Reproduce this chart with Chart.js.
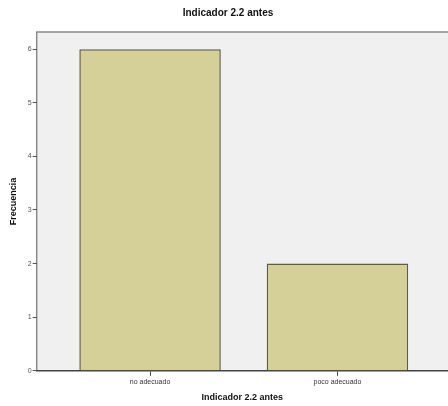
<!DOCTYPE html>
<html>
<head>
<meta charset="utf-8">
<script src="https://cdn.jsdelivr.net/npm/chart.js@4"></script>
<style>
  html, body { margin: 0; padding: 0; background: #fff; }
  #wrap { width: 448px; height: 406px; }
</style>
</head>
<body>
<div id="wrap"><canvas id="c" width="448" height="406"></canvas></div>
<script>
// chart values
const categories = ['no adecuado', 'poco adecuado'];
const counts = [6, 2];
const yTicks = [0, 1, 2, 3, 4, 5, 6];

const chartTitle = 'Indicador 2.2 antes';
const xTitle = 'Indicador 2.2 antes';
const yTitle = 'Frecuencia';

// grey plot box behind the bars, like the SPSS frame
const plotBox = {
    id: 'plotBox',
    beforeDraw(chart) {
        const { ctx, chartArea } = chart;
        ctx.save();
        ctx.fillStyle = '#f0f0f0';
        ctx.fillRect(chartArea.left, chartArea.top, chart.width - chartArea.left, chartArea.bottom - chartArea.top);
        ctx.strokeStyle = '#8a8a8a';
        ctx.lineWidth = 1.5;
        ctx.beginPath();
        ctx.moveTo(chartArea.left, chartArea.bottom);
        ctx.lineTo(chartArea.left, chartArea.top);
        ctx.lineTo(chart.width, chartArea.top);
        ctx.stroke();
        ctx.restore();
    }
};

new Chart(document.getElementById('c'), {
    type: 'bar',
    data: {
        datasets: [{
            data: categories.map((c, i) => ({ x: i, y: counts[i] })),
            backgroundColor: '#d5cf98',
            borderColor: '#5e5c45',
            borderWidth: 1.5,
            barPercentage: 0.755,
            categoryPercentage: 1
        }]
    },
    options: {
        responsive: false,
        animation: false,
        layout: { padding: { top: 4, right: 0, bottom: 3, left: 8 } },
        plugins: {
            legend: { display: false },
            tooltip: { enabled: false },
            title: {
                display: true,
                text: chartTitle,
                color: '#111',
                font: { family: 'Liberation Sans', size: 10, weight: 'bold' },
                padding: { top: 3, bottom: 13 }
            }
        },
        scales: {
            x: {
                type: 'linear',
                offset: false,
                min: -0.605,
                max: 1.59,
                afterBuildTicks: (axis) => { axis.ticks = categories.map((c, i) => ({ value: i })); },
                ticks: {
                    callback: (v) => categories[v],
                    color: '#333',
                    font: { family: 'Liberation Sans', size: 7 },
                    padding: 2,
                    maxRotation: 0,
                    autoSkip: false
                },
                grid: { offset: false, drawOnChartArea: false, tickLength: 5, color: '#444', lineWidth: 1 },
                border: { display: true, color: '#444', width: 1.5 },
                title: {
                    display: true,
                    text: xTitle,
                    color: '#111',
                    font: { family: 'Liberation Sans', size: 9, weight: 'bold' },
                    padding: { top: 4, bottom: 0 }
                }
            },
            y: {
                min: 0,
                max: 6.32,
                afterBuildTicks: (axis) => { axis.ticks = yTicks.map(v => ({ value: v })); },
                ticks: {
                    color: '#555',
                    font: { family: 'Liberation Sans', size: 7 },
                    padding: 1
                },
                grid: { drawOnChartArea: false, tickLength: 4, color: '#555', lineWidth: 1 },
                border: { display: false },
                title: {
                    display: true,
                    text: yTitle,
                    color: '#111',
                    font: { family: 'Liberation Sans', size: 9, weight: 'bold' },
                    padding: { top: 0, bottom: 8 }
                }
            }
        }
    },
    plugins: [plotBox]
});
</script>
</body>
</html>
